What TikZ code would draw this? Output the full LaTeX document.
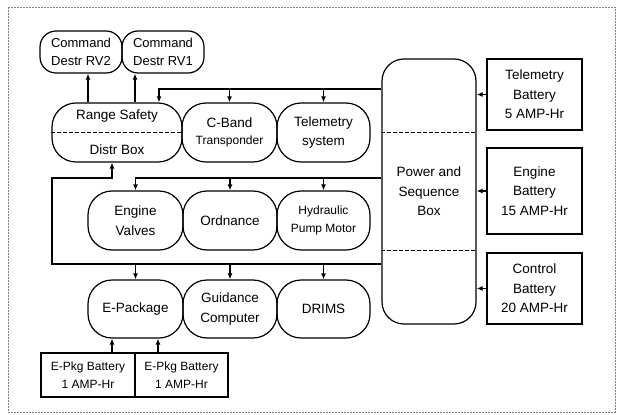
\documentclass[tikz,border=0pt]{standalone}
\usepackage{fontspec}
\setmainfont{Liberation Sans}
\usetikzlibrary{arrows.meta,calc}

\begin{document}
\begin{tikzpicture}[x=1pt,y=-1pt,line width=1.2pt,>={Latex[length=6pt,width=5pt]},
  unit/.style={draw,rounded corners=24pt,minimum width=95pt,minimum height=59pt,align=center,inner sep=1pt},
  cmd/.style={draw,rounded corners=16pt,minimum width=82pt,minimum height=42pt,align=center,inner sep=1pt},
  bat/.style={draw,minimum width=95pt,align=center,inner sep=1pt},
  txt/.style={font=\fontsize{13.5}{19.5}\selectfont},
  sm/.style={font=\fontsize{12}{18}\selectfont}]
\useasboundingbox (0,0) rectangle (619,415);
\draw[gray,line width=0.5pt,dash pattern=on 2pt off 1pt] (8,7) rectangle (615,412);

\node[cmd,txt,font=\fontsize{13}{18}\selectfont] (rv2) at (81,52) {Command\\Destr RV2};
\node[cmd,txt,font=\fontsize{13}{18}\selectfont] (rv1) at (163,52) {Command\\Destr RV1};

\node[unit,minimum width=130pt] (rs) at (117,132.5) {};
\draw[dash pattern=on 4pt off 2pt] (rs.west) -- (rs.east);
\node[txt] (rstop) at (117,116) {Range Safety};
\node[txt] (rsbot) at (117,150) {Distr Box};
\node[unit,txt] (cband) at (229.5,132.5) {C-Band\\[-3pt]{\fontsize{12}{13}\selectfont Transponder}};
\node[unit,txt,minimum width=93pt] (tel) at (323.5,132.5) {Telemetry\\system};

\node[unit,txt] (ev) at (135.5,220.5) {Engine\\Valves};
\node[unit,txt,minimum width=94pt] (ord) at (230,220.5) {Ordnance};
\node[unit,sm,minimum width=93pt] (hyd) at (323.5,220.5) {Hydraulic\\Pump Motor};

\node[unit,txt,minimum height=58pt] (epk) at (135.5,309) {E-Package};
\node[unit,txt,minimum width=94pt,minimum height=58pt] (gc) at (230,309) {Guidance\\Computer};
\node[unit,txt,minimum width=93pt,minimum height=58pt] (drims) at (323.5,309) {DRIMS};

\node[bat,sm,minimum width=94pt,minimum height=44pt] (ep1) at (88,375) {E-Pkg Battery\\1 AMP-Hr};
\node[bat,sm,minimum width=93pt,minimum height=44pt] (ep2) at (181.5,375) {E-Pkg Battery\\1 AMP-Hr};

\node[draw,rounded corners=22pt,minimum width=94pt,minimum height=265pt,align=center,txt] (pwr) at (429,191.5) {Power and\\Sequence\\Box};
\draw[dash pattern=on 4pt off 2pt] (pwr.west |- rs) -- (pwr.east |- rs);
\draw[dash pattern=on 4pt off 2pt] (pwr.west |- ev.south) -- (pwr.east |- ev.south);

\node[bat,txt,minimum height=71pt] (tbat) at (534.5,94.5) {Telemetry\\Battery\\5 AMP-Hr};
\node[bat,txt,minimum height=86pt] (ebat) at (534.5,191) {Engine\\Battery\\15 AMP-Hr};
\node[bat,txt,minimum height=71pt] (cbat) at (534.5,288.5) {Control\\Battery\\20 AMP-Hr};

\draw[->] ([xshift=-29pt]rs.north) -- ([xshift=-29pt]rs.north |- rv2.south);
\draw[->] ([xshift=18pt]rs.north) -- ([xshift=18pt]rs.north |- rv1.south);

\coordinate (b1) at (159,89);
\coordinate (b2) at (135.5,178);
\coordinate (b3) at (52,264);
\draw[->] (pwr.west |- b1) -- (b1) -- (b1 |- rs.north);
\draw[->] (cband |- b1) -- (cband.north);
\draw[->] (tel |- b1) -- (tel.north);

\draw[->] (pwr.west |- b2) -- (b2) -- (ev.north);
\draw[->] (ord |- b2) -- (ord.north);
\draw[->] (hyd |- b2) -- (hyd.north);

\draw[->] (pwr.west |- b3) -- (b3) |- ([xshift=-5pt]rs.south |- b2) -- ([xshift=-5pt]rs.south);
\draw[->] (epk |- b3) -- (epk.north);
\draw[->] (gc |- b3) -- (gc.north);
\draw[->] (drims |- b3) -- (drims.north);

\draw[->] ([xshift=-23.5pt]epk.south |- ep1.north) -- ([xshift=-23.5pt]epk.south);
\draw[->] ([xshift=22.5pt]epk.south |- ep2.north) -- ([xshift=22.5pt]epk.south);

\draw[->] (tbat.west) -- (tbat.west -| pwr.east);
\draw[->] (ebat.west) -- (ebat.west -| pwr.east);
\draw[->] (cbat.west) -- (cbat.west -| pwr.east);

\end{tikzpicture}
\end{document}
